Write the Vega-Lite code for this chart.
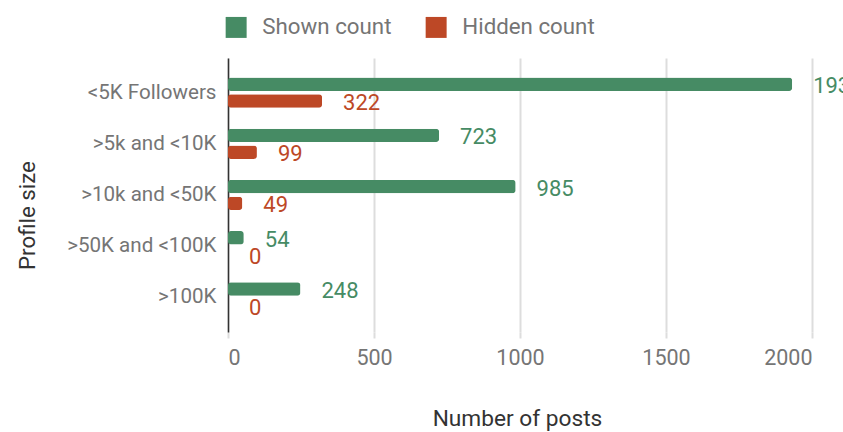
{
  "$schema": "https://vega.github.io/schema/vega-lite/v6.json",
  "autosize": "none",
  "width": 584,
  "height": 274,
  "padding": {"left": 228, "top": 58, "right": 31, "bottom": 100},
  "background": "white",
  "config": {
    "font": "Roboto",
    "view": {"stroke": null}
  },
  "data": {
    "values": [
      {"profile": "<5K Followers", "series": "Shown count", "posts": 1932},
      {"profile": "<5K Followers", "series": "Hidden count", "posts": 322},
      {"profile": ">5k and <10K", "series": "Shown count", "posts": 723},
      {"profile": ">5k and <10K", "series": "Hidden count", "posts": 99},
      {"profile": ">10k and <50K", "series": "Shown count", "posts": 985},
      {"profile": ">10k and <50K", "series": "Hidden count", "posts": 49},
      {"profile": ">50K and <100K", "series": "Shown count", "posts": 54},
      {"profile": ">50K and <100K", "series": "Hidden count", "posts": 0},
      {"profile": ">100K", "series": "Shown count", "posts": 248},
      {"profile": ">100K", "series": "Hidden count", "posts": 0}
    ]
  },
  "encoding": {
    "y": {
      "field": "profile",
      "type": "nominal",
      "sort": ["<5K Followers", ">5k and <10K", ">10k and <50K", ">50K and <100K", ">100K"],
      "scale": {"paddingInner": 0.41, "paddingOuter": 0.38},
      "axis": {
        "title": "Profile size",
        "titleFontSize": 22.3,
        "titleFontWeight": "normal",
        "titleColor": "#333333",
        "titleX": -201,
        "titleY": 157,
        "titleAngle": -90,
        "titleAlign": "center",
        "titleBaseline": "middle",
        "labelFontSize": 20.6,
        "labelColor": "#757575",
        "labelPadding": 12,
        "ticks": false,
        "domainColor": "#333333",
        "domainWidth": 1.5,
        "grid": false
      }
    },
    "yOffset": {
      "field": "series",
      "type": "nominal",
      "sort": ["Shown count", "Hidden count"],
      "scale": {"paddingInner": 0.2}
    },
    "x": {
      "field": "posts",
      "type": "quantitative",
      "scale": {"domain": [0, 2000], "nice": false},
      "axis": {
        "title": "Number of posts",
        "titleFontSize": 22.7,
        "titleFontWeight": "normal",
        "titleColor": "#333333",
        "titleX": 289,
        "titleY": 86,
        "titleAlign": "center",
        "titleBaseline": "middle",
        "values": [0, 500, 1000, 1500, 2000],
        "format": "d",
        "labelFontSize": 21.5,
        "labelColor": "#757575",
        "labelPadding": 9,
        "tickSize": 6,
        "tickColor": "#dddddd",
        "tickWidth": 2,
        "domain": false,
        "grid": true,
        "gridColor": "#dddddd",
        "gridWidth": 2
      }
    },
    "color": {
      "field": "series",
      "type": "nominal",
      "scale": {"domain": ["Shown count", "Hidden count"], "range": ["#468B64", "#BD4826"]},
      "legend": {
        "title": null,
        "orient": "none",
        "direction": "horizontal",
        "legendX": -3,
        "legendY": -42,
        "symbolType": "square",
        "symbolSize": 440,
        "symbolStrokeWidth": 0,
        "symbolOpacity": 1,
        "labelFontSize": 22.3,
        "labelColor": "#757575",
        "labelOffset": 15,
        "columnPadding": 33
      }
    }
  },
  "layer": [
    {
      "mark": {"type": "bar", "cornerRadius": 3}
    },
    {
      "mark": {"type": "text", "align": "left", "baseline": "middle", "dx": 21, "dy": 2, "fontSize": 22},
      "encoding": {
        "text": {"field": "posts", "type": "quantitative", "format": "d"}
      }
    }
  ]
}
